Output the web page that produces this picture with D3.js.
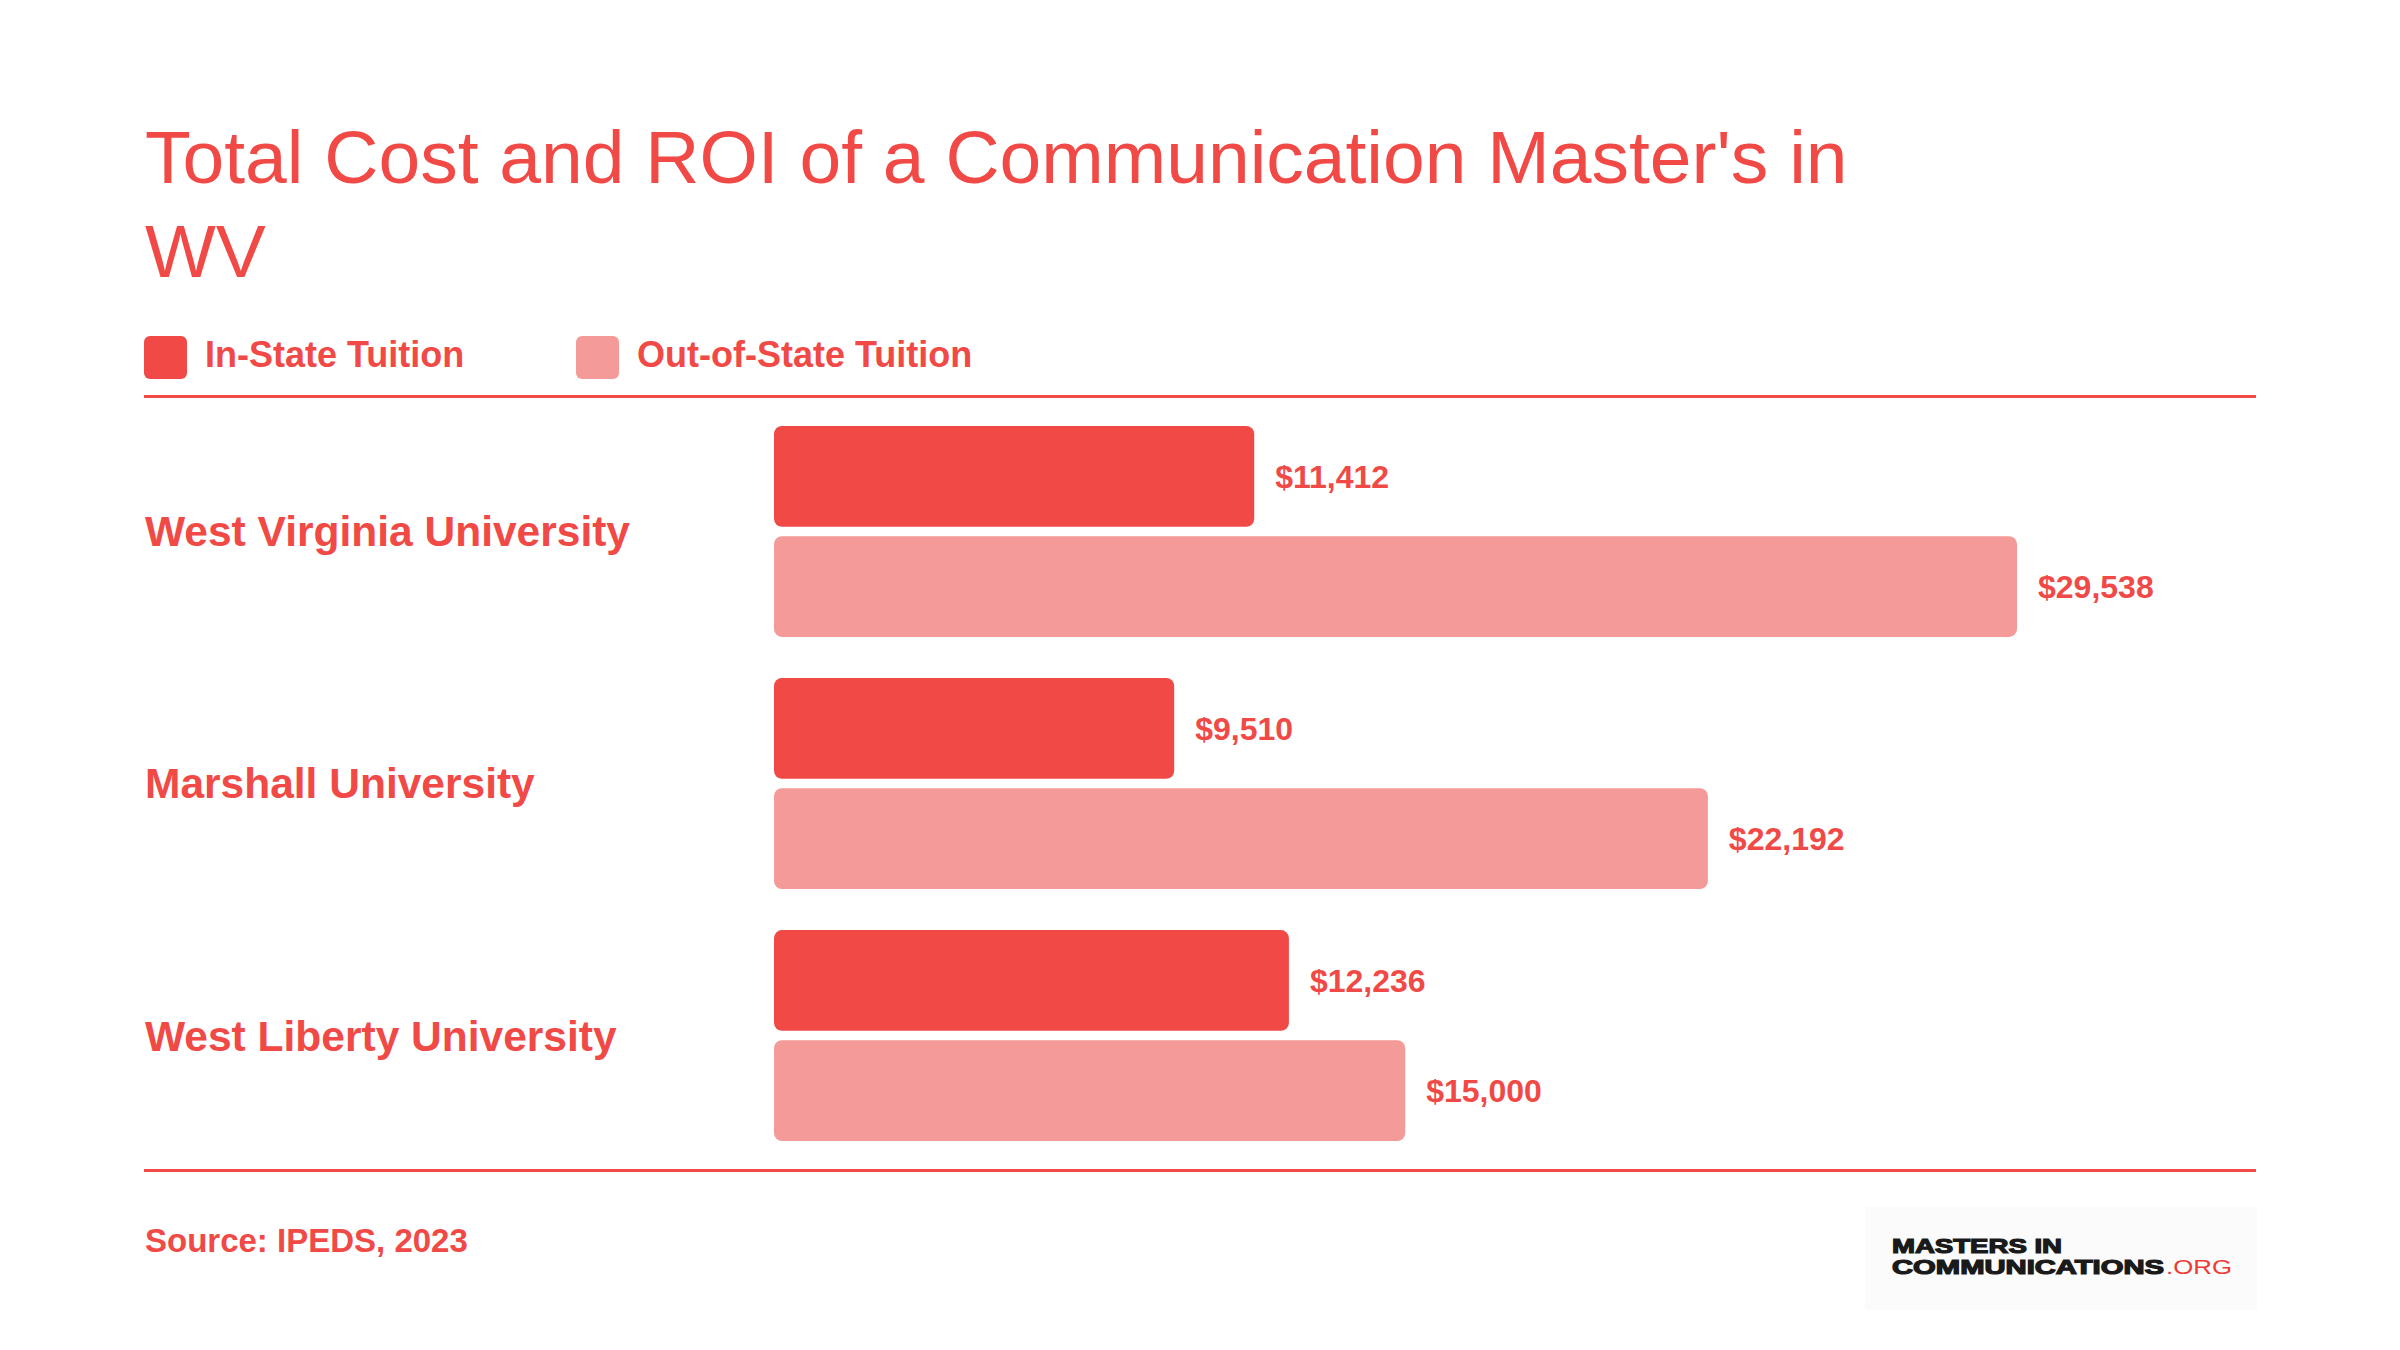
<!DOCTYPE html>
<html>
<head>
<meta charset="utf-8">
<script src="https://cdn.jsdelivr.net/npm/d3@7"></script>
<style>
  html, body { margin: 0; padding: 0; background: #ffffff; }
  svg { display: block; }
  text { font-family: "Liberation Sans", Arial, Helvetica, sans-serif; }
</style>
</head>
<body>
<svg id="chart" width="2400" height="1350"></svg>
<script>
// ---- data ----
const titleLines = ["Total Cost and ROI of a Communication Master's in", "WV"];
const universities = ["West Virginia University", "Marshall University", "West Liberty University"];
const seriesNames = ["In-State Tuition", "Out-of-State Tuition"];
const inStateTuition = [11412, 9510, 12236];
const outOfStateTuition = [29538, 22192, 15000];
const sourceText = "Source: IPEDS, 2023";

// ---- styles ----
const RED = "#F04946";
const PINK = "#F49A98";
const seriesColors = [RED, PINK];

const svg = d3.select("#chart");
svg.append("rect").attr("width", 2400).attr("height", 1350).attr("fill", "#ffffff");

// Title
const title = svg.append("text")
  .attr("x", 145)
  .attr("fill", RED)
  .attr("font-size", 75)
  .attr("font-weight", 400);
titleLines.forEach((line, i) => {
  title.append("tspan").attr("x", 145).attr("y", 183 + i * 94).text(line);
});

// Legend
const legendX = [144, 576];
seriesNames.forEach((name, i) => {
  const g = svg.append("g").attr("transform", `translate(${legendX[i]},336)`);
  g.append("rect").attr("width", 43).attr("height", 43).attr("rx", 6).attr("fill", seriesColors[i]);
  g.append("text").attr("x", 61).attr("y", 31)
    .attr("fill", RED).attr("font-size", 36).attr("font-weight", 700).text(name);
});

// Rules
svg.append("line").attr("x1", 144).attr("x2", 2256).attr("y1", 396.5).attr("y2", 396.5)
  .attr("stroke", RED).attr("stroke-width", 3);
svg.append("line").attr("x1", 144).attr("x2", 2256).attr("y1", 1170.5).attr("y2", 1170.5)
  .attr("stroke", RED).attr("stroke-width", 3);

// Scales
const data = universities.map((u, i) => ({
  name: u,
  values: [inStateTuition[i], outOfStateTuition[i]]
}));

const x = d3.scaleLinear()
  .domain([0, d3.max(outOfStateTuition.concat(inStateTuition))])
  .range([774, 2017]);

const y0 = d3.scaleBand()
  .domain(universities)
  .range([426, 1141])
  .paddingInner(0.163)
  .paddingOuter(0);

const y1 = d3.scaleBand()
  .domain(seriesNames)
  .range([0, y0.bandwidth()])
  .paddingInner(0.085)
  .paddingOuter(0);

const fmt = v => "$" + d3.format(",")(v);

const groups = svg.append("g").selectAll("g")
  .data(data).join("g")
  .attr("transform", d => `translate(0,${y0(d.name)})`);

groups.append("text")
  .attr("x", 145)
  .attr("y", y0.bandwidth() / 2 + 15)
  .attr("fill", RED)
  .attr("font-size", 42.5)
  .attr("font-weight", 700)
  .text(d => d.name);

const bars = groups.selectAll("g.bar")
  .data(d => d.values.map((v, j) => ({ key: seriesNames[j], value: v, j })))
  .join("g").attr("class", "bar");

bars.append("rect")
  .attr("x", x(0))
  .attr("y", d => y1(d.key))
  .attr("width", d => x(d.value) - x(0))
  .attr("height", y1.bandwidth())
  .attr("rx", 8)
  .attr("fill", d => seriesColors[d.j]);

bars.append("text")
  .attr("x", d => x(d.value) + 21)
  .attr("y", d => y1(d.key) + y1.bandwidth() / 2 + 11.5)
  .attr("fill", RED)
  .attr("font-size", 32)
  .attr("font-weight", 700)
  .text(d => fmt(d.value));

// Source
svg.append("text").attr("x", 145).attr("y", 1252)
  .attr("fill", RED).attr("font-size", 33).attr("font-weight", 700).text(sourceText);

// Logo
const logo = svg.append("g");
logo.append("rect").attr("x", 1865).attr("y", 1207).attr("width", 392).attr("height", 103).attr("fill", "#FBFBFB");
logo.append("text").attr("x", 1892).attr("y", 1253)
  .attr("font-family", "'DejaVu Sans', sans-serif").attr("font-weight", 700)
  .attr("font-size", 20).attr("fill", "#1a1a1a")
  .attr("stroke", "#1a1a1a").attr("stroke-width", 1.2)
  .attr("textLength", 170).attr("lengthAdjust", "spacingAndGlyphs")
  .text("MASTERS IN");
logo.append("text").attr("x", 1892).attr("y", 1274)
  .attr("font-family", "'DejaVu Sans', sans-serif").attr("font-weight", 700)
  .attr("font-size", 20).attr("fill", "#1a1a1a")
  .attr("stroke", "#1a1a1a").attr("stroke-width", 1.2)
  .attr("textLength", 272).attr("lengthAdjust", "spacingAndGlyphs")
  .text("COMMUNICATIONS");
logo.append("text").attr("x", 2166).attr("y", 1274)
  .attr("font-family", "'DejaVu Sans', sans-serif").attr("font-weight", 400)
  .attr("font-size", 20).attr("fill", "#EE3B36")
  .attr("textLength", 66).attr("lengthAdjust", "spacingAndGlyphs")
  .text(".ORG");
</script>
</body>
</html>
